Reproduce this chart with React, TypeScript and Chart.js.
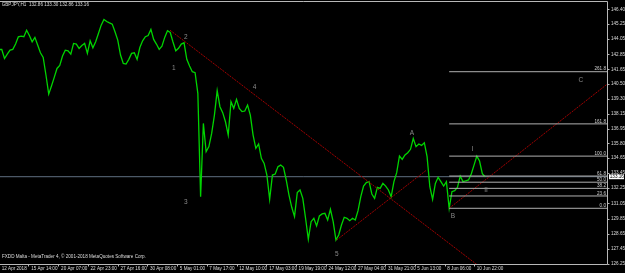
import React, { useEffect, useRef } from "react";
import { Chart, registerables } from "chart.js";

Chart.register(...registerables);

// ---- data ----
const symbolHeader = "GBPJPY,H1  132.86 133.30 132.86 133.16";
const footerText = "FXDD Malta - MetaTrader 4, \u00A9 2001-2018 MetaQuotes Software Corp.";

// close prices, one reading every 6 hourly bars
const sampleEveryBars = 6;
const closes = [
  143.23, 143.23, 142.52, 142.87, 143.18, 143.24, 143.66, 144.24, 144.29, 144.24,
  144.76, 144.34, 143.84, 144.19, 143.58, 142.97, 142.6, 141.21, 139.7, 140.34,
  141.02, 141.73, 141.97, 142.71, 143.18, 143.13, 142.87, 143.71, 143.66, 143.32,
  143.55, 143.71, 142.92, 143.92, 143.37, 143.84, 144.5, 145.16, 145.61, 145.45,
  145.34, 145.24, 144.63, 143.97, 142.79, 142.13, 142.08, 142.45, 142.92, 142.97,
  142.45, 143.39, 143.92, 144.24, 144.34, 144.82, 144.03, 143.66, 143.24, 143.5,
  144.19, 144.71, 144.58, 143.82, 143.13, 143.32, 143.66, 143.76, 142.45, 141.92,
  141.47, 141.39, 139.76, 131.58, 137.38, 135.14, 135.54, 136.59, 138.04, 139.97,
  138.7, 138.23, 137.51, 136.46, 139.1, 138.57, 139.28, 138.57, 138.31, 138.36,
  138.83, 138.04, 136.46, 135.41, 135.75, 134.61, 134.21, 133.29, 131.37, 133.29,
  133.37, 133.95, 134.08, 133.9, 132.9, 131.71, 130.74, 130.0, 131.9, 132.11,
  131.45, 129.87, 128.21, 129.6, 129.87, 129.26, 130.05, 130.21, 130.26, 129.73,
  130.58, 129.6, 128.15, 128.55, 129.34, 129.95, 129.87, 129.68, 129.87, 129.73,
  130.47, 131.58, 132.42, 132.69, 132.77, 131.79, 131.45, 132.32, 132.24, 132.63,
  132.42, 132.11, 131.58, 132.77, 133.48, 134.8, 134.53, 134.88, 135.06, 135.33,
  136.19, 135.54, 135.75, 135.64, 135.85, 134.75, 132.37, 131.37, 132.63, 133.11,
  132.77, 132.42, 132.77, 130.66, 131.97, 132.05, 132.32, 133.21, 132.77, 132.84,
  132.9, 133.37, 134.08, 134.79, 134.4, 133.4, 133.16,
];
const bidPrice = 133.16;

// axes
const xMinBar = 2.17;
const xMaxBar = 1322.4;
const yMinPrice = 126.21;
const yMaxPrice = 147.03;
const priceTicks = [
  146.4, 145.25, 144.05, 142.85, 141.65, 140.5, 139.3, 138.15, 136.95, 135.8,
  134.65, 133.45, 132.25, 131.05, 129.85, 128.65, 127.45, 126.25,
];
const timeTickBars = [0, 64, 129, 193, 258, 322, 387, 451, 516, 581, 645, 710, 774, 839, 903, 968, 1032];
const timeTickLabels = [
  "12 Apr 2018", "15 Apr 14:00", "20 Apr 07:00", "22 Apr 23:00", "27 Apr 16:00",
  "30 Apr 08:00", "5 May 01:00", "7 May 17:00", "12 May 10:00", "17 May 03:00",
  "19 May 19:00", "24 May 12:00", "27 May 04:00", "31 May 21:00", "5 Jun 13:00",
  "8 Jun 06:00", "10 Jun 22:00",
];

// trend lines
const trendStartBar = [371.5, 733.6, 978];
const trendStartPrice = [144.76, 128.15, 130.66];
const trendEndBar = [1038, 929, 1322.4];
const trendEndPrice = [126.21, 133.69, 140.52];

// fibonacci
const fibStartBar = 978;
const fibLowPrice = 130.66;
const fibHighPrice = 134.79;
const fibLevels = [0, 23.6, 38.2, 50, 61.8, 100, 161.8, 261.8];

// wave labels
const waveText = ["1", "2", "3", "4", "5", "A", "B", "C", "I", "II"];
const waveBar = [380, 406, 406, 555, 734, 897, 986, 1264, 1029, 1058];
const wavePrice = [141.78, 144.18, 131.13, 140.23, 127.04, 136.59, 130.05, 140.81, 135.32, 132.1];

const FONT = '"Liberation Sans", Arial, sans-serif';

const overlay = {
  id: "mt4overlay",
  afterDraw(chart: any) {
    const { ctx, chartArea: a, scales } = chart;
    const x = scales.x;
    const y = scales.y;
    ctx.save();
    const R = Math.floor(a.right) + 0.5;
    const B = Math.floor(a.bottom) + 0.5;
    const T = Math.floor(a.top) + 0.5;
    // frame
    ctx.strokeStyle = "#b8b8b8";
    ctx.lineWidth = 1;
    ctx.beginPath();
    ctx.moveTo(0, T);
    ctx.lineTo(R, T);
    ctx.lineTo(R, B);
    ctx.lineTo(0, B);
    ctx.stroke();

    ctx.font = `4.6px ${FONT}`;
    ctx.fillStyle = "#dcdcdc";
    // price axis
    ctx.textAlign = "left";
    ctx.textBaseline = "middle";
    priceTicks.forEach((p) => {
      const py = y.getPixelForValue(p);
      ctx.beginPath();
      ctx.moveTo(R, Math.round(py) + 0.5);
      ctx.lineTo(R + 2, Math.round(py) + 0.5);
      ctx.stroke();
      ctx.fillText(p.toFixed(2), R + 3.5, py);
    });
    // time axis
    timeTickBars.forEach((b, i) => {
      const px = x.getPixelForValue(b);
      ctx.beginPath();
      ctx.moveTo(Math.round(px) + 0.5, B);
      ctx.lineTo(Math.round(px) + 0.5, B + 2);
      ctx.stroke();
      ctx.fillText(timeTickLabels[i], px + 2.7, B + 4.2);
    });

    // fibonacci level texts
    ctx.textAlign = "right";
    ctx.textBaseline = "bottom";
    ctx.fillStyle = "#d0d0d0";
    fibLevels.forEach((lv) => {
      const price = fibLowPrice + ((fibHighPrice - fibLowPrice) * lv) / 100;
      const py = y.getPixelForValue(price);
      ctx.fillText(lv.toFixed(1), R - 1.5, py - 0.3);
    });

    // header & footer
    ctx.textAlign = "left";
    ctx.textBaseline = "middle";
    ctx.fillStyle = "#dcdcdc";
    ctx.fillText(symbolHeader, 1.7, 4.8);
    ctx.fillText(footerText, 2, 256.5);

    // wave labels
    ctx.font = `6.5px ${FONT}`;
    ctx.fillStyle = "#8a8a8a";
    ctx.textAlign = "center";
    waveText.forEach((t, i) => {
      ctx.fillText(t, x.getPixelForValue(waveBar[i]), y.getPixelForValue(wavePrice[i]));
    });

    // bid price box
    const by = y.getPixelForValue(bidPrice);
    ctx.fillStyle = "#ffffff";
    ctx.fillRect(R + 1.5, by - 2.5, 15, 5);
    ctx.fillStyle = "#000000";
    ctx.font = `4.6px ${FONT}`;
    ctx.textAlign = "left";
    ctx.fillText(bidPrice.toFixed(2), R + 2.3, by + 0.1);
    ctx.restore();
  },
};

export default function App() {
  const ref = useRef<HTMLCanvasElement>(null);
  useEffect(() => {
    document.body.style.margin = "0";
    document.body.style.background = "#000";
    const priceData = closes.map((c, i) => ({ x: i * sampleEveryBars, y: c }));
    const fibSets = fibLevels.map((lv) => {
      const price = fibLowPrice + ((fibHighPrice - fibLowPrice) * lv) / 100;
      return {
        data: [
          { x: fibStartBar, y: price },
          { x: xMaxBar, y: price },
        ],
        borderColor: "#b0b0b0",
        borderWidth: 1,
        pointRadius: 0,
        order: 1,
      };
    });
    const trendSets = trendStartBar.map((sb, i) => ({
      data: [
        { x: sb, y: trendStartPrice[i] },
        { x: trendEndBar[i], y: trendEndPrice[i] },
      ],
      borderColor: "#a00000",
      borderWidth: 1,
      borderDash: [2, 1],
      pointRadius: 0,
      order: 2,
    }));
    const chart = new Chart(ref.current!, {
      type: "line",
      data: {
        datasets: [
          ...fibSets,
          ...trendSets,
          {
            data: [
              { x: xMinBar, y: bidPrice },
              { x: xMaxBar, y: bidPrice },
            ],
            borderColor: "#5f6f80",
            borderWidth: 1,
            pointRadius: 0,
            order: 4,
          },
          {
            data: priceData,
            borderColor: "#00d400",
            borderWidth: 1.3,
            pointRadius: 0,
            tension: 0,
            order: 3,
          },
        ] as any,
      },
      options: {
        animation: false,
        responsive: false,
        devicePixelRatio: 1,
        layout: { padding: { left: 0, top: 1.5, right: 17.3, bottom: 8.5 } },
        plugins: { legend: { display: false }, tooltip: { enabled: false } },
        scales: {
          x: { type: "linear", min: xMinBar, max: xMaxBar, display: false },
          y: { type: "linear", min: yMinPrice, max: yMaxPrice, display: false },
        },
      },
      plugins: [overlay],
    });
    return () => chart.destroy();
  }, []);
  return (
    <div style={{ width: 625, height: 273, background: "#000", position: "relative" }}>
      <canvas ref={ref} width={625} height={273} style={{ display: "block" }} />
    </div>
  );
}
